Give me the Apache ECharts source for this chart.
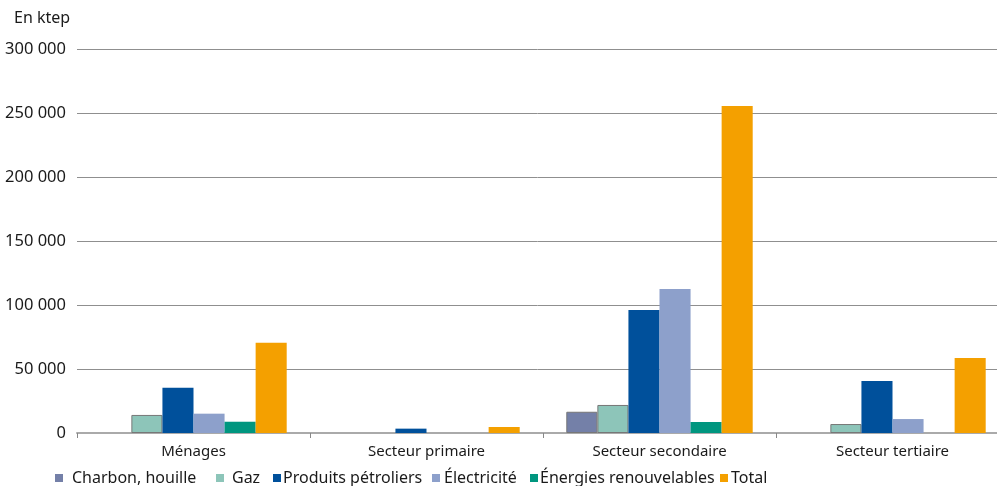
<!DOCTYPE html>
<html>
<head>
<meta charset="utf-8">
<script src="https://cdn.jsdelivr.net/npm/echarts@6/dist/echarts.min.js"></script>
<style>
html,body{margin:0;padding:0;background:#fff;}
#chart{width:997px;height:486px;}
</style>
</head>
<body>
<div id="chart"></div>
<script>
const categories = ['Ménages', 'Secteur primaire', 'Secteur secondaire', 'Secteur tertiaire'];
const charbon = [null, null, 16600, null];
const gaz = [14100, null, 21900, 7000];
const petrole = [35400, 3400, 96100, 40600];
const electricite = [15100, null, 112500, 10900];
const renouvelables = [8800, null, 8600, null];
const total = [70500, 4700, 255500, 58600];
const yTickLabels = ['0', '50 000', '100 000', '150 000', '200 000', '250 000', '300 000'];

const seriesNames = ['Charbon, houille', 'Gaz', 'Produits pétroliers', 'Électricité', 'Énergies renouvelables', 'Total'];
const seriesData = [charbon, gaz, petrole, electricite, renouvelables, total];
const colors = ['#7480a8', '#8dc5b9', '#00509b', '#8da0cb', '#00967f', '#f4a000'];

const FONT = 'Noto Sans';
const legendLefts = [55, 216, 273, 432, 530, 720];
const legendTextPad = [4, 3, -3, -1, -3, -2];

const chart = echarts.init(document.getElementById('chart'));
chart.setOption({
  animation: false,
  textStyle: { fontFamily: FONT },
  graphic: [{
    type: 'text', left: 14, top: 10,
    style: { text: 'En ktep', font: '16px "Noto Sans"', fill: '#1a1a1a' }
  }],
  legend: seriesNames.map((name, i) => ({
    left: legendLefts[i], top: 470, padding: 0,
    itemWidth: 8, itemHeight: 8,
    icon: 'rect',
    itemStyle: { borderWidth: 0 },
    textStyle: { fontSize: 16, color: '#1a1a1a', fontFamily: FONT, padding: [0, 0, 0, legendTextPad[i]] },
    data: [name]
  })),
  grid: { left: 77, top: 49, bottom: 53, width: 932, containLabel: false, outerBoundsMode: 'none' },
  xAxis: {
    type: 'category',
    data: categories,
    axisLine: { lineStyle: { color: '#aaaaaa', width: 2 } },
    axisTick: { show: true, length: 5, lineStyle: { color: '#888888' } },
    axisLabel: { fontSize: 15, color: '#1a1a1a', margin: 11, fontFamily: FONT }
  },
  yAxis: {
    type: 'value',
    min: 0, max: 300000, interval: 50000,
    axisLine: { show: false },
    axisTick: { show: false },
    splitLine: { lineStyle: { color: '#8f8f8f', width: 1 } },
    axisLabel: {
      fontSize: 16.5, color: '#1a1a1a', margin: 11, fontFamily: FONT,
      formatter: (v) => yTickLabels[Math.round(v / 50000)]
    }
  },
  series: seriesNames.map((name, i) => ({
    name,
    type: 'bar',
    data: seriesData[i],
    barGap: '0%',
    barCategoryGap: '20%',
    itemStyle: {
      color: colors[i],
      borderColor: (i === 0 || i === 1) ? '#777777' : colors[i],
      borderWidth: (i === 0 || i === 1) ? 1 : 0
    }
  }))
});
</script>
</body>
</html>
